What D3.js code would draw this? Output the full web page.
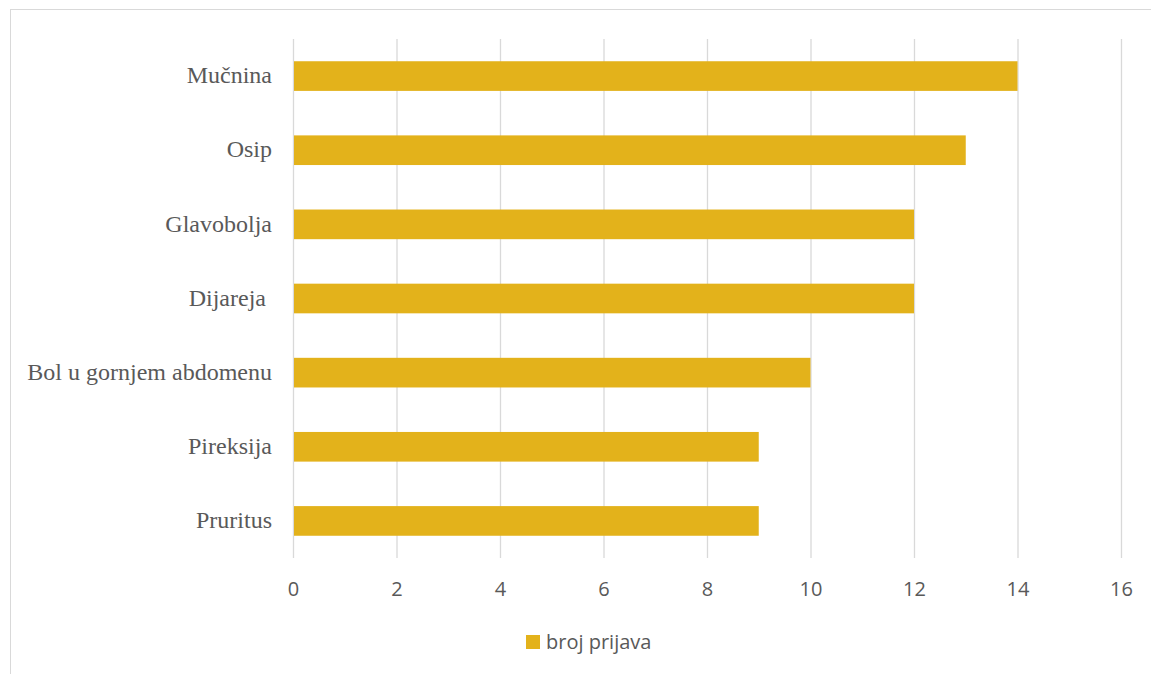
<!DOCTYPE html>
<html><head><meta charset="utf-8">
<script src="https://cdn.jsdelivr.net/npm/d3@7"></script>
<style>
body{margin:0;background:#fff}svg{display:block}
.cat text{font-family:"Liberation Serif","Times New Roman",Tinos,serif;font-size:24px;fill:#595959;white-space:pre}
.num text,.leg{font-family:"Open Sans",sans-serif;font-size:20px;fill:#595959}
</style>
</head><body>
<script>
const categories = ["Mučnina","Osip","Glavobolja","Dijareja ","Bol u gornjem abdomenu","Pireksija","Pruritus"];
const values = [14,13,12,12,10,9,9];
const tickValues = [0,2,4,6,8,10,12,14,16];
const seriesName = "broj prijava";

const W=1151,H=674;
const svg=d3.select("body").append("svg").attr("width",W).attr("height",H);
svg.append("rect").attr("x",10.5).attr("y",9.5).attr("width",W+20).attr("height",H+20)
  .attr("fill","#fff").attr("stroke","#d9d9d9").attr("stroke-width",1);

const x=d3.scaleLinear().domain([0,16]).range([293,1121]);
const y=d3.scaleBand().domain(categories).range([39,558]).paddingInner(0.6).paddingOuter(0.3);

const grid=svg.append("g").attr("transform","translate(0,558)")
  .call(d3.axisBottom(x).tickValues(tickValues).tickSize(-519).tickFormat(""));
grid.select(".domain").remove();
grid.selectAll("line").attr("stroke","#d9d9d9").attr("stroke-width",1.3);

svg.append("g").selectAll("rect").data(categories).join("rect")
  .attr("x",x(0)+1).attr("y",d=>y(d)).attr("height",y.bandwidth())
  .attr("width",(d,i)=>x(values[i])-x(0)-1).attr("fill","#E3B21B");

const xa=svg.append("g").attr("class","num").attr("transform","translate(0,558)")
  .call(d3.axisBottom(x).tickValues(tickValues).tickSize(0).tickPadding(24));
xa.attr("font-family",null).attr("font-size",null);
xa.select(".domain").remove();

const ya=svg.append("g").attr("class","cat").attr("transform","translate(293,0)")
  .call(d3.axisLeft(y).tickSize(0).tickPadding(21));
ya.attr("font-family",null).attr("font-size",null);
ya.select(".domain").remove();
ya.selectAll("text").attr("dy","0.3em");

const lg=svg.append("g");
lg.append("rect").attr("x",526).attr("y",635).attr("width",14).attr("height",14).attr("fill","#E3B21B");
lg.append("text").attr("class","leg").attr("x",546).attr("y",649).text(seriesName);
</script>
</body></html>
